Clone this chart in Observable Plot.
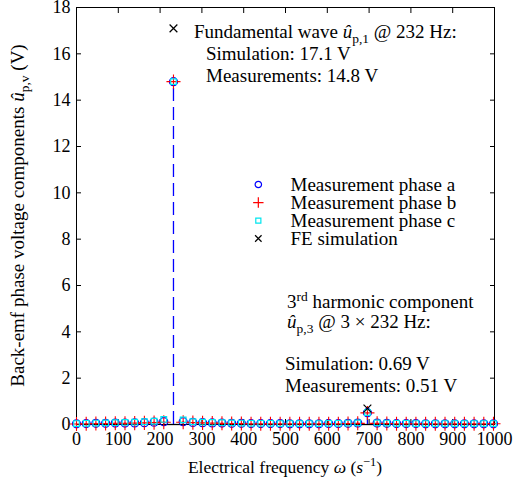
<!DOCTYPE html>
<html><head><meta charset="utf-8">
<script src="https://cdn.jsdelivr.net/npm/d3@7"></script>
<script src="https://cdn.jsdelivr.net/npm/@observablehq/plot@0.6"></script>
<style>body{margin:0;background:#fff} svg{font-family:"Liberation Serif",serif}</style>
</head><body><div id="chart"></div>
<script>
// ---- data ----
const freq = [0, 23.2, 46.4, 69.6, 92.8, 116, 139.2, 162.4, 185.6, 208.8, 232, 255.2, 278.4, 301.6, 324.8, 348, 371.2, 394.4, 417.6, 440.8, 464, 487.2, 510.4, 533.6, 556.8, 580, 603.2, 626.4, 649.6, 672.8, 696, 719.2, 742.4, 765.6, 788.8, 812, 835.2, 858.4, 881.6, 904.8, 928, 951.2, 974.4, 997.6];
const phaseA = [0.03,0.04,0.05,0.05,0.06,0.06,0.07,0.08,0.10,0.12,14.8,0.12,0.09,0.08,0.07,0.06,0.05,0.05,0.04,0.04,0.04,0.04,0.03,0.03,0.03,0.03,0.04,0.04,0.05,0.06,0.51,0.06,0.05,0.04,0.04,0.04,0.03,0.03,0.03,0.03,0.03,0.03,0.03,0.03];
const phaseB = [0.02,0.03,0.04,0.04,0.05,0.05,0.06,0.07,0.08,0.10,14.8,0.10,0.08,0.07,0.06,0.05,0.04,0.04,0.03,0.03,0.03,0.03,0.03,0.03,0.03,0.03,0.03,0.03,0.04,0.05,0.50,0.05,0.04,0.03,0.03,0.03,0.03,0.03,0.03,0.03,0.03,0.03,0.03,0.03];
const phaseC = [0.04,0.05,0.06,0.07,0.08,0.09,0.10,0.12,0.14,0.22,14.8,0.20,0.12,0.10,0.09,0.08,0.07,0.06,0.05,0.05,0.05,0.04,0.04,0.04,0.04,0.04,0.05,0.05,0.06,0.07,0.52,0.07,0.06,0.05,0.05,0.04,0.04,0.04,0.04,0.04,0.04,0.04,0.04,0.04];
const feFreq = [232, 696];
const feValue = [17.1, 0.69];
const feBaseStart = [208.8, 672.8];
const feBaseEnd = [255.2, 719.2];
const xTicks = [0,100,200,300,400,500,600,700,800,900,1000];
const yTicks = [0,2,4,6,8,10,12,14,16,18];
const legendLabels = ["Measurement phase a","Measurement phase b","Measurement phase c","FE simulation"];
const legendX = 435, legendTextX = 512;
const legendY = [10.36, 9.58, 8.80, 8.03];

// ---- tables ----
const mk = (vals) => freq.map((f, i) => ({f, v: vals[i]}));
const A = mk(phaseA), B = mk(phaseB), C = mk(phaseC);
const FE = feFreq.map((f, i) => ({f, v: feValue[i]}));
const FEbase = feBaseStart.map((s, i) => ({s, e: feBaseEnd[i]}));
const legend = legendLabels.map((l, i) => ({l, y: legendY[i], i}));
const sym = ["circle","plus","square","times"];
const col = ["#0000ff","#ff0000","#00e5ee","#000000"];
const rad = [4, 4.6, 3.2, 3.6];

const chart = Plot.plot({
  width: 523, height: 488,
  marginLeft: 76, marginRight: 29, marginTop: 7, marginBottom: 64,
  style: {fontFamily: "'Liberation Serif', serif", fontSize: "18px", color: "#000", background: "#fff", overflow: "visible"},
  x: {domain: [0, 1000]},
  y: {domain: [0, 18]},
  marks: [
    Plot.frame({stroke: "#000", strokeWidth: 1}),
    Plot.axisX({ticks: xTicks, tickSize: 0, tickPadding: 8, label: null, fontSize: 18, tickFormat: d => String(d)}),
    Plot.axisX({ticks: xTicks, tickSize: -5, text: null, label: null}),
    Plot.axisX({anchor: "top", ticks: xTicks, tickSize: -5, text: null, label: null}),
    Plot.axisY({ticks: yTicks, tickSize: 0, tickPadding: 6, label: null, fontSize: 18}),
    Plot.axisY({ticks: yTicks, tickSize: -5, text: null, label: null}),
    Plot.axisY({anchor: "right", ticks: yTicks, tickSize: -5, text: null, label: null}),
    Plot.ruleY(FEbase, {x1: "s", x2: "e", y: 0, stroke: "#000", strokeWidth: 1.3}),
    Plot.ruleX(A, {x: "f", y1: 0, y2: "v", stroke: "#0000ff", strokeWidth: 1.3, strokeDasharray: "13,6"}),
    Plot.dot(A, {x: "f", y: "v", symbol: "circle", r: rad[0], stroke: "#0000ff", strokeWidth: 1.2, fill: "none"}),
    Plot.dot(B, {x: "f", y: "v", symbol: "plus", r: rad[1], stroke: "#ff0000", strokeWidth: 1.1, fill: "none"}),
    Plot.dot(C, {x: "f", y: "v", symbol: "square", r: rad[2], stroke: "#00e5ee", strokeWidth: 1.2, fill: "none"}),
    Plot.dot(FE, {x: "f", y: "v", symbol: "times", r: rad[3], stroke: "#000", strokeWidth: 1.2}),
    Plot.dot(legend, {x: legendX, y: "y", symbol: d => sym[d.i], stroke: d => col[d.i], r: d => rad[d.i], strokeWidth: 1.2, fill: "none"}),
    Plot.text(legend, {x: legendTextX, y: "y", text: "l", textAnchor: "start", fontSize: 19, fill: "#000"})
  ]
});
document.getElementById("chart").appendChild(chart);

const sx = chart.scale("x"), sy = chart.scale("y");
const svg = d3.select(chart);

function rich(x, y, parts, anchor, size) {
  const fs = size || 19;
  const t = svg.append("text").attr("x", x).attr("y", y).attr("font-size", fs)
    .attr("text-anchor", anchor || "start").attr("fill", "#000")
    .attr("font-family", "'Liberation Serif', serif");
  let shift = 0;
  for (const p of parts) {
    const target = p.sub ? 5 : p.sup ? -7 : 0;
    const ts = t.append("tspan").text(p.t).attr("dy", target - shift);
    if (p.i) ts.attr("font-style", "italic");
    if (p.sub || p.sup) ts.attr("font-size", fs * 0.71);
    shift = target;
  }
  return t;
}
const X = v => sx.apply(v), Y = v => sy.apply(v);
rich(X(282), Y(16.66), [{t:"Fundamental wave "},{t:"û",i:1},{t:"p,1",sub:1},{t:" @ 232 Hz:"}]);
rich(X(311), Y(15.71), [{t:"Simulation: 17.1 V"}]);
rich(X(311), Y(14.76), [{t:"Measurements: 14.8 V"}]);
rich(X(505), Y(5.0), [{t:"3"},{t:"rd",sup:1},{t:" harmonic component"}]);
rich(X(505), Y(4.14), [{t:"û",i:1},{t:"p,3",sub:1},{t:" @ 3 × 232 Hz:"}]);
rich(X(500), Y(2.33), [{t:"Simulation: 0.69 V"}]);
rich(X(500), Y(1.38), [{t:"Measurements: 0.51 V"}]);

// axis labels
rich((X(0)+X(1000))/2, 473, [{t:"Electrical frequency "},{t:"ω",i:1},{t:" ("},{t:"s",i:1},{t:"−1",sup:1},{t:")"}], "middle", 17.5);
rich(0, 0, [{t:"Back-emf phase voltage components "},{t:"û",i:1},{t:"p,v",sub:1},{t:" (V)"}], "middle")
  .attr("transform", `translate(24,${(Y(0)+Y(18))/2}) rotate(-90)`);
</script>
</body></html>
